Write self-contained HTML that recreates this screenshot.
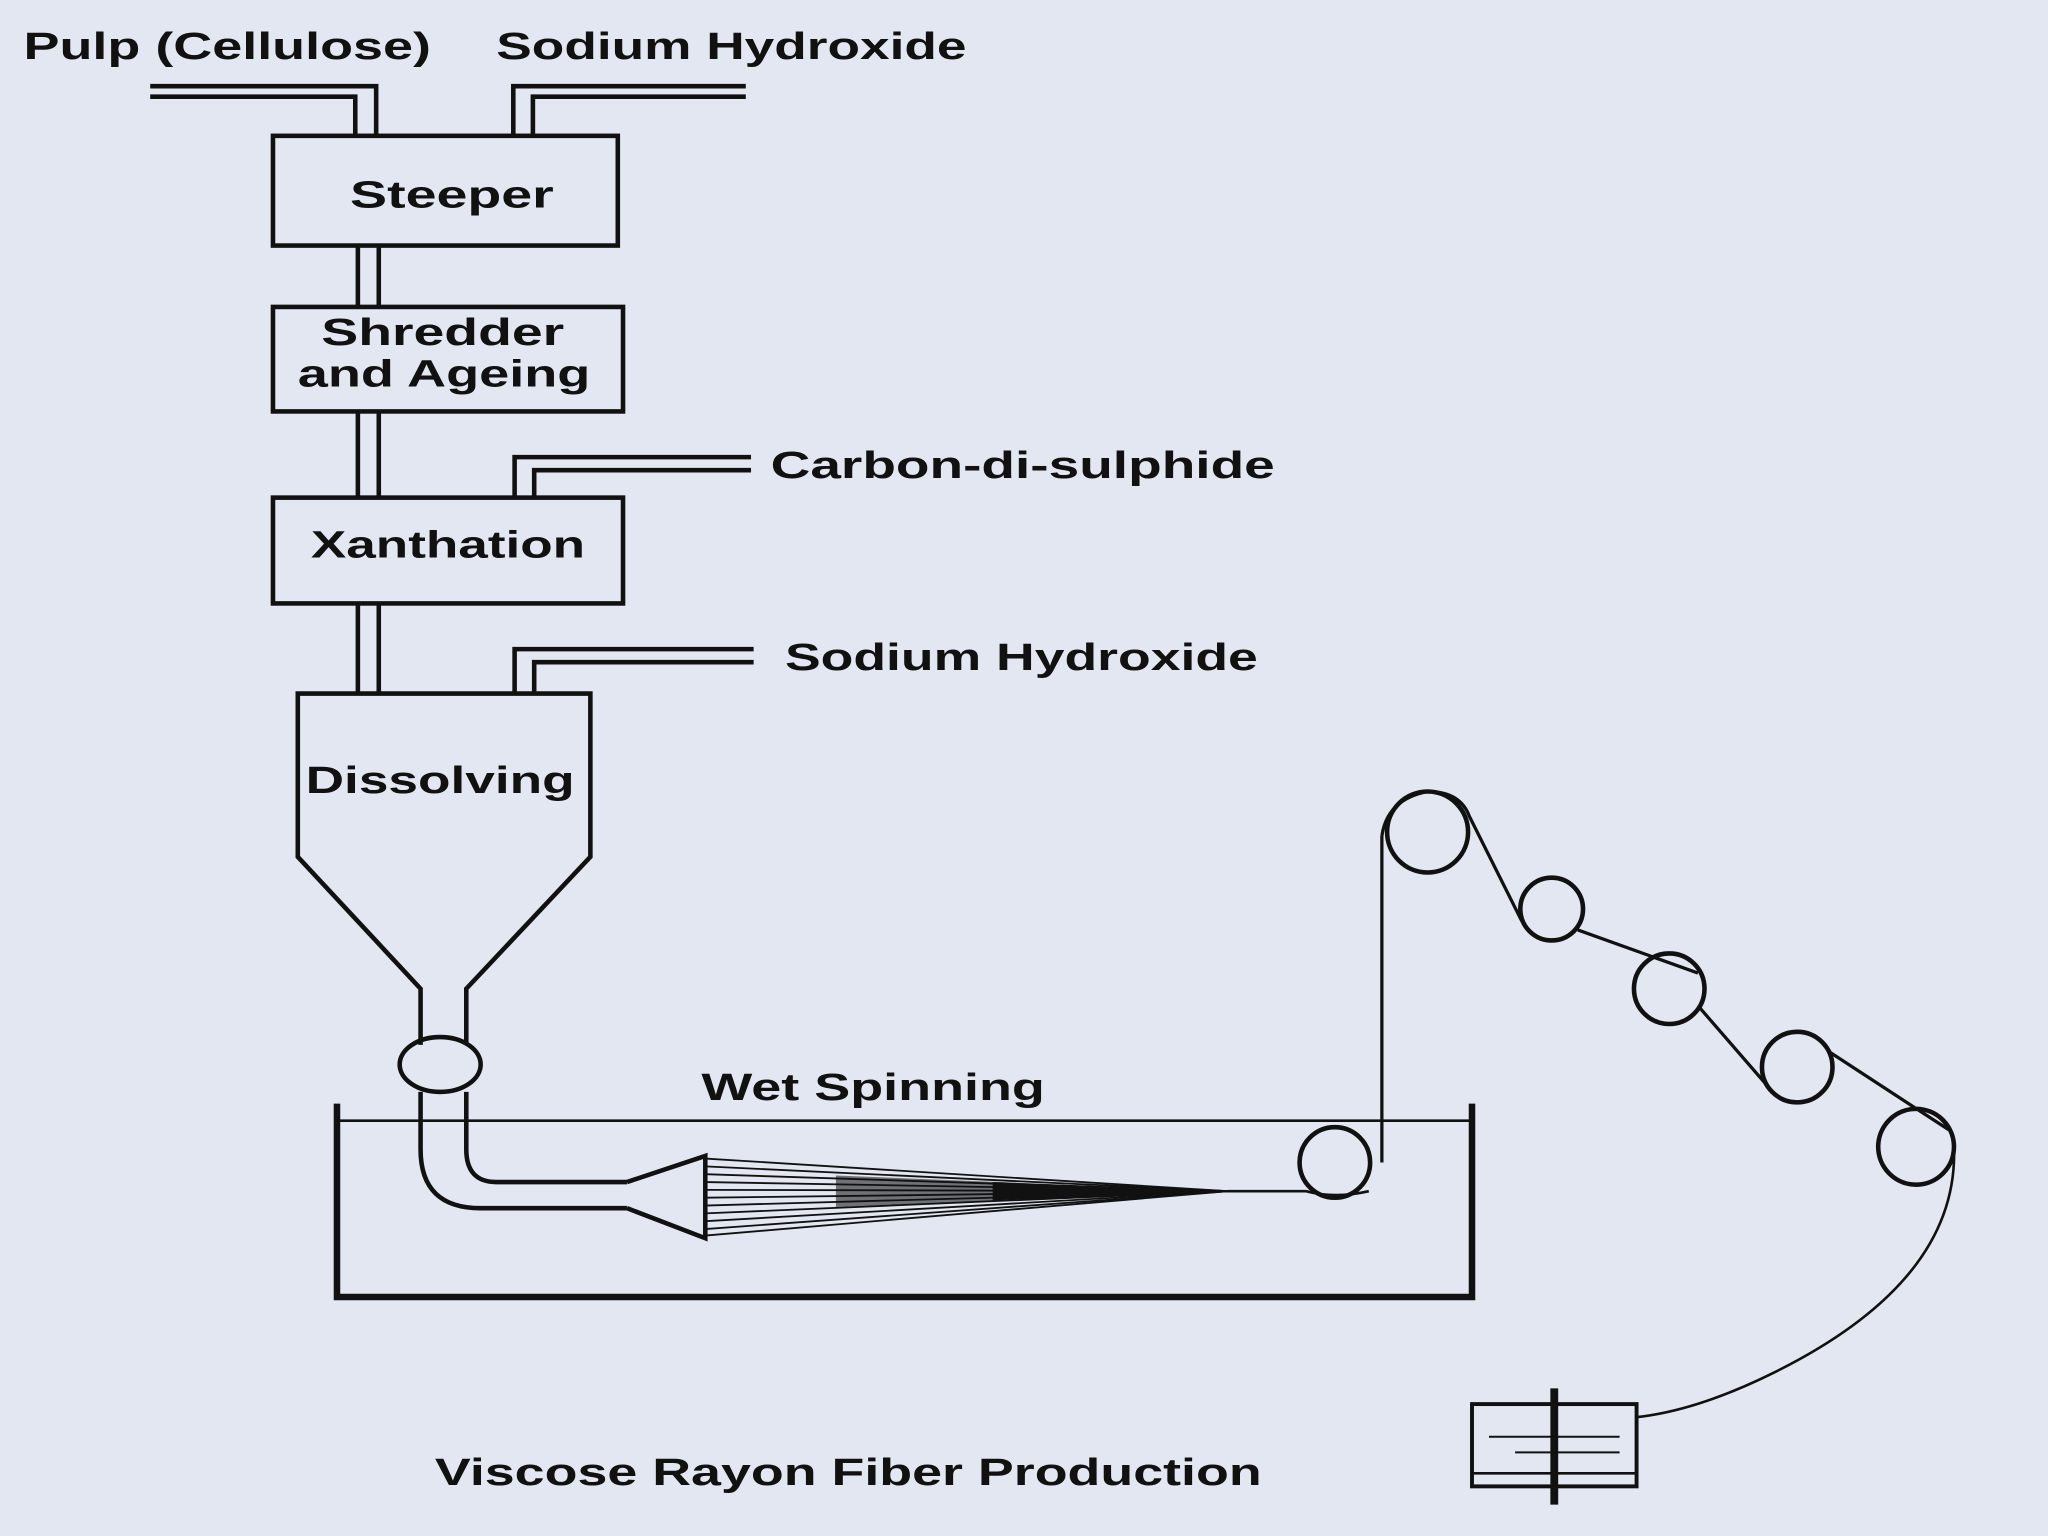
<!DOCTYPE html>
<html><head><meta charset="utf-8"><style>
html,body{margin:0;padding:0;background:#e2e7f1;}
svg{display:block}
text{font-family:"Liberation Sans",sans-serif;font-weight:bold;font-size:29px;fill:#111;}
</style></head><body>
<svg width="2048" height="1536" viewBox="0 0 1568 1176" xmlns="http://www.w3.org/2000/svg">
<rect width="1568" height="1176" fill="#e2e7f1"/>
<g fill="none" stroke="#111" stroke-width="3.5">
<polyline points="115,66 288,66 288,104"/>
<polyline points="115,74 272,74 272,104"/>
<polyline points="571,66 393,66 393,104"/>
<polyline points="571,74 408,74 408,104"/>
<rect x="209" y="104" width="264" height="84"/>
<line x1="274" y1="188" x2="274" y2="235"/><line x1="290" y1="188" x2="290" y2="235"/>
<rect x="209" y="235" width="268" height="80"/>
<line x1="274" y1="315" x2="274" y2="381"/><line x1="290" y1="315" x2="290" y2="381"/>
<polyline points="575,350 394,350 394,381"/>
<polyline points="575,360 409,360 409,381"/>
<rect x="209" y="381" width="268" height="81"/>
<line x1="274" y1="462" x2="274" y2="531"/><line x1="290" y1="462" x2="290" y2="531"/>
<polyline points="577,497 394,497 394,531"/>
<polyline points="577,507 409,507 409,531"/>
<polyline points="322,800 322,757 228,656 228,531 452,531 452,656 357,757 357,800"/>
<ellipse cx="337" cy="815" rx="31" ry="21"/>
<path d="M322,836 L322,880 Q322,925 368,925 L480,925"/>
<path d="M357,836 L357,880 Q357,905 380,905 L480,905"/>
<path d="M480,905 L540,885 L540,948 L480,925"/>
<polyline points="258,845 258,993 1127,993 1127,845" stroke-width="5"/>
<line x1="258" y1="858" x2="1127" y2="858" stroke-width="2"/>
<circle cx="1022" cy="890" r="27"/>
<circle cx="1093" cy="637" r="31"/>
<circle cx="1188" cy="696" r="24"/>
<circle cx="1278" cy="757" r="27"/>
<circle cx="1376" cy="817" r="27"/>
<circle cx="1467" cy="878" r="29"/>
<line x1="1058" y1="890" x2="1058" y2="640" stroke-width="2.5"/>
<path d="M1058,640 Q1062,612 1093,606 Q1118,606 1125,625 L1165,705" stroke-width="2.5"/>
<line x1="1208" y1="712" x2="1300" y2="745" stroke-width="2.5"/>
<line x1="1300" y1="770" x2="1352" y2="830" stroke-width="2.5"/>
<line x1="1400" y1="805" x2="1492" y2="865" stroke-width="2.5"/>
<path d="M1496,878 Q1500,980 1360,1050 Q1300,1080 1253,1085" stroke-width="2"/>
<path d="M940,912 L1000,912 Q1022,918 1048,912" stroke-width="2"/>
<rect x="1127" y="1075" width="126" height="63" stroke-width="3"/>
<line x1="1190" y1="1063" x2="1190" y2="1152" stroke-width="6"/>
<line x1="1140" y1="1100" x2="1240" y2="1100" stroke-width="1.5"/>
<line x1="1160" y1="1112" x2="1240" y2="1112" stroke-width="1.5"/>
<line x1="1127" y1="1128" x2="1253" y2="1128" stroke-width="2"/>
</g>
<g stroke="#111" stroke-width="1.4">
<line x1="540" y1="887" x2="940" y2="912"/><line x1="540" y1="893" x2="940" y2="912"/>
<line x1="540" y1="899" x2="940" y2="912"/><line x1="540" y1="905" x2="940" y2="912"/>
<line x1="540" y1="911" x2="940" y2="912"/><line x1="540" y1="917" x2="940" y2="912"/>
<line x1="540" y1="923" x2="940" y2="912"/><line x1="540" y1="929" x2="940" y2="912"/>
<line x1="540" y1="935" x2="940" y2="912"/><line x1="540" y1="941" x2="940" y2="912"/>
<line x1="540" y1="946" x2="940" y2="912"/>
</g>
<polygon points="640,900 940,912 640,924" fill="#111" opacity="0.55"/>
<polygon points="760,905 940,912 760,919" fill="#111"/>
<text x="18" y="45" textLength="312" lengthAdjust="spacingAndGlyphs">Pulp (Cellulose)</text>
<text x="380" y="45" textLength="360" lengthAdjust="spacingAndGlyphs">Sodium Hydroxide</text>
<text x="268" y="159" textLength="156" lengthAdjust="spacingAndGlyphs">Steeper</text>
<text x="246" y="264" textLength="186" lengthAdjust="spacingAndGlyphs">Shredder</text>
<text x="228" y="296" textLength="224" lengthAdjust="spacingAndGlyphs">and Ageing</text>
<text x="590" y="366" textLength="386" lengthAdjust="spacingAndGlyphs">Carbon-di-sulphide</text>
<text x="238" y="427" textLength="210" lengthAdjust="spacingAndGlyphs">Xanthation</text>
<text x="601" y="513" textLength="362" lengthAdjust="spacingAndGlyphs">Sodium Hydroxide</text>
<text x="234" y="607" textLength="206" lengthAdjust="spacingAndGlyphs">Dissolving</text>
<text x="537" y="842" textLength="263" lengthAdjust="spacingAndGlyphs">Wet Spinning</text>
<text x="333" y="1137" textLength="633" lengthAdjust="spacingAndGlyphs">Viscose Rayon Fiber Production</text>
</svg>
</body></html>
